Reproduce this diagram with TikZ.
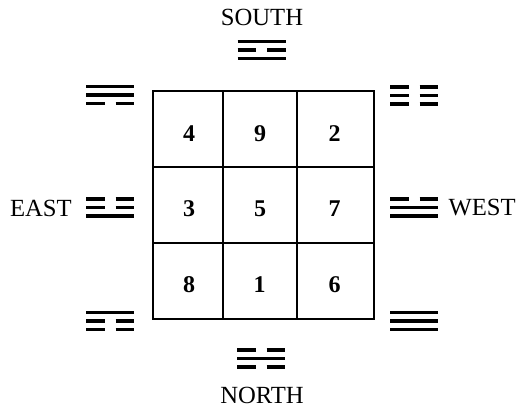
\documentclass[tikz,border=0pt]{standalone}
\usepackage{fontspec}
\setmainfont{Liberation Serif}
\tikzset{
  yao/.style={line width=2.3pt, line cap=butt},
  gridline/.style={line width=1.2pt},
  dirlabel/.style={inner sep=0pt, font=\fontsize{18.5}{21}\selectfont},
  numlabel/.style={inner sep=0pt, font=\fontsize{18}{21}\selectfont\bfseries},
}
% one line of a trigram: x-centre, y, type (1 solid, 0 broken)
\newcommand{\tgline}[3]{%
  \ifnum#3=1
    \draw[yao] ({#1-24},#2) -- ({#1+24},#2);
  \else
    \draw[yao] ({#1-24},#2) -- ({#1-5.5},#2);
    \draw[yao] ({#1+5.5},#2) -- ({#1+24},#2);
  \fi}
% trigram: x-centre, y-centre, top, middle, bottom
\newcommand{\trigram}[5]{%
  \tgline{#1}{#2-8.5}{#3}%
  \tgline{#1}{#2}{#4}%
  \tgline{#1}{#2+8.5}{#5}}
\begin{document}
\begin{tikzpicture}[x=0.75pt,y=-0.75pt]
  \useasboundingbox (0,0) rectangle (517,411);
  % grid
  \draw[gridline] (153,91) rectangle (374,319);
  \draw[gridline] (223,91) -- (223,319);
  \draw[gridline] (297,91) -- (297,319);
  \draw[gridline] (153,167) -- (374,167);
  \draw[gridline] (153,243) -- (374,243);
  % numbers
  \node[numlabel] (n4) at (189,134) {4};
  \node[numlabel] (n9) at (260,134) {9};
  \node[numlabel] (n2) at (334.5,134) {2};
  \node[numlabel] (n3) at (189,208.5) {3};
  \node[numlabel] (n5) at (260,208.5) {5};
  \node[numlabel] (n7) at (334.5,208.5) {7};
  \node[numlabel] (n8) at (189,285) {8};
  \node[numlabel] (n1) at (259.5,285) {1};
  \node[numlabel] (n6) at (334.5,285) {6};
  % direction labels
  \node[dirlabel] (south) at (262,17) {SOUTH};
  \node[dirlabel] (north) at (262,395) {NORTH};
  \node[dirlabel,anchor=east] (east) at (72,208) {EAST};
  \node[dirlabel,anchor=east] (west) at (516,208) {WEST};
  % trigrams
  \trigram{261.5}{50}{1}{0}{1}    % south: Li
  \trigram{261}{358.5}{0}{1}{0}   % north: Kan
  \trigram{110}{95}{1}{1}{0}      % top-left: Xun
  \trigram{414}{95.5}{0}{0}{0}    % top-right: Kun
  \trigram{110}{207.5}{0}{0}{1}   % east: Zhen
  \trigram{414}{207.5}{0}{1}{1}   % west: Dui
  \trigram{110}{321}{1}{0}{0}     % bottom-left: Gen
  \trigram{414}{321}{1}{1}{1}     % bottom-right: Qian
\end{tikzpicture}
\end{document}
